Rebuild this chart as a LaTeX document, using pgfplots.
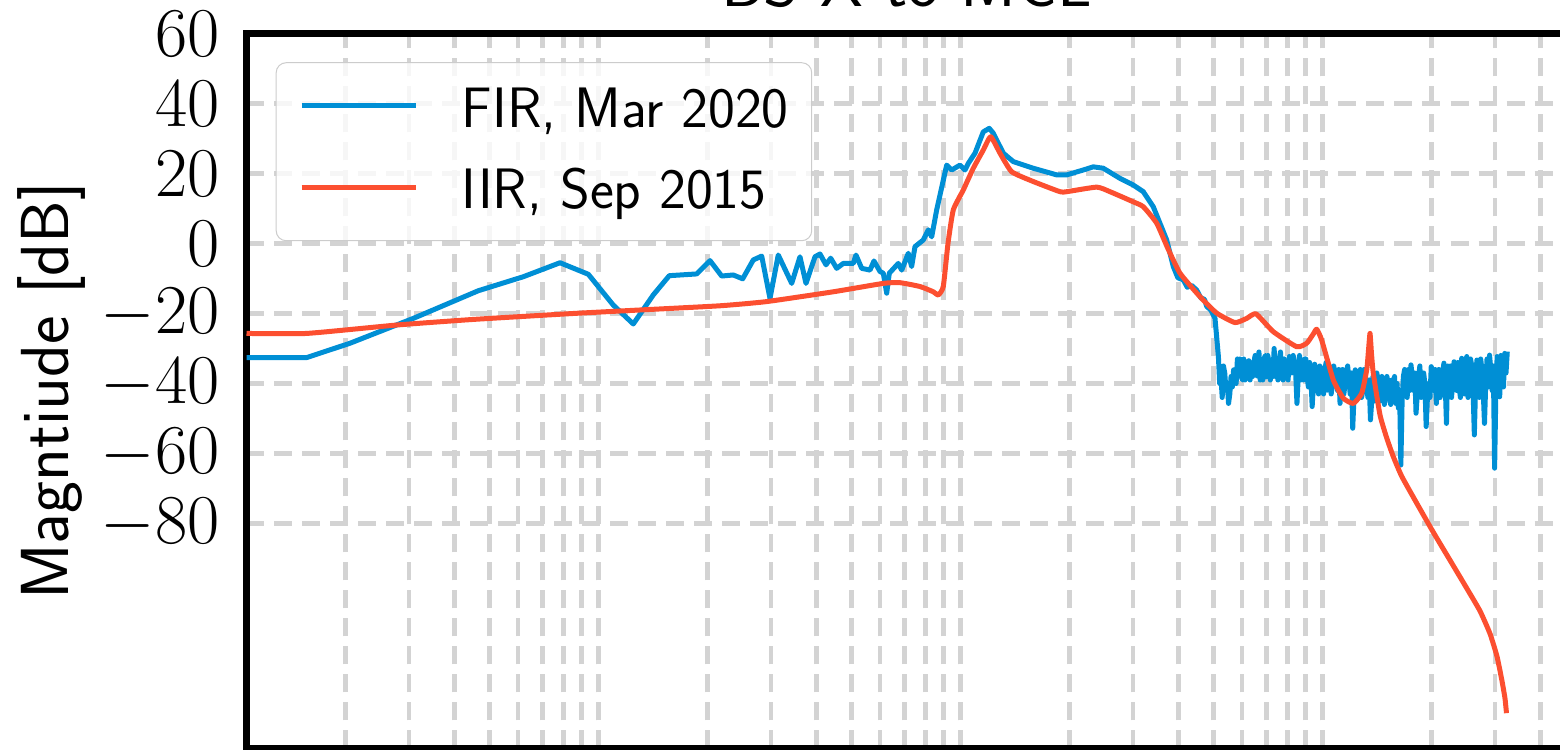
\RequirePackage{fix-cm}
\documentclass[border=0pt]{standalone}
\usepackage{pgfplots}
\pgfplotsset{compat=1.18}
\usepackage{pgfplotstable}
\definecolor{fir}{RGB}{0,143,213}
\definecolor{iir}{RGB}{252,79,48}
\definecolor{gridc}{RGB}{211,211,211}
\definecolor{legedge}{RGB}{204,204,204}

% lf = log10(frequency), db = magnitude
\pgfplotstableread{
lf db
-0.9718 -32.6
-0.8055 -32.6
-0.6859 -28.5
-0.5110 -21.4
-0.3315 -13.5
-0.2072 -9.5
-0.1058 -5.5
-0.0276 -8.8
0.0414 -17.6
0.0967 -23.0
0.1519 -14.7
0.1961 -9.2
0.2718 -8.7
0.3086 -4.9
0.3409 -9.3
0.3729 -9.0
0.3989 -10.1
0.4282 -4.7
0.4514 -3.6
0.4743 -15.7
0.4972 -3.3
0.5343 -11.4
0.5572 -3.8
0.5738 -11.4
0.5986 -3.8
0.6124 -3.0
0.6290 -6.1
0.6420 -4.2
0.6586 -7.1
0.6768 -5.7
0.7044 -5.7
0.7119 -3.3
0.7276 -7.1
0.7506 -7.6
0.7616 -5.0
0.7782 -8.0
0.7873 -8.5
0.7967 -14.2
0.8039 -8.5
0.8287 -5.7
0.8381 -7.6
0.8564 -2.8
0.8657 -6.6
0.8749 -0.9
0.8978 1.0
0.9116 3.9
0.9210 1.9
0.9348 9.6
0.9624 22.4
0.9762 21.0
0.9992 22.4
1.0130 21.0
1.0221 22.9
1.0406 25.8
1.0635 31.9
1.0801 32.9
1.0912 31.5
1.1188 25.8
1.1464 23.4
1.2017 21.5
1.2663 19.6
1.2939 19.6
1.3398 21.0
1.3674 21.9
1.3950 21.5
1.4412 18.6
1.4779 16.7
1.5055 14.8
1.5331 10.5
1.5702 1.0
1.5884 -6.6
1.6011 -9.8
1.6160 -10.4
1.6271 -12.5
1.6392 -12.0
1.6530 -13.3
1.6641 -15.5
1.6746 -16.0
1.6807 -18.0
1.6920 -19.0
1.7036 -21.4
1.713 -32.3
1.7165 -40
1.720 -38
1.7235 -44
1.727 -35
1.7305 -37
1.734 -42
1.7375 -40
1.741 -45.7
1.7445 -43
1.748 -38
1.7515 -41
1.755 -36.1
1.7585 -38
1.762 -40
1.7655 -33
1.769 -35
1.7725 -33
1.776 -38
1.7795 -39
1.783 -33
1.7865 -39
1.790 -37
1.7935 -38
1.797 -33.5
1.8005 -39
1.804 -36.5
1.8075 -38
1.811 -34
1.8145 -32
1.818 -37.5
1.8215 -38
1.825 -31
1.8285 -39
1.832 -36
1.8355 -39
1.839 -33
1.8425 -32
1.846 -38.1
1.8495 -32
1.853 -34
1.8565 -39
1.860 -36
1.8635 -38
1.867 -30
1.8705 -38
1.874 -35
1.8775 -39
1.881 -33
1.8845 -31
1.888 -37
1.8915 -39
1.895 -33
1.8985 -38
1.902 -36
1.9055 -39
1.909 -32.3
1.9125 -34
1.916 -37
1.9195 -32
1.923 -34
1.9265 -37
1.930 -45.7
1.9335 -38
1.937 -32
1.9405 -39
1.944 -36
1.9475 -39
1.951 -33
1.9545 -33
1.958 -38
1.9615 -41
1.965 -34
1.9685 -38
1.972 -46.6
1.9755 -40
1.979 -34.5
1.9825 -42
1.986 -39
1.9895 -43
1.993 -35
1.9965 -36
2.000 -40
2.0035 -43
2.007 -36
2.0105 -34
2.014 -41.9
2.0175 -39
2.021 -35.2
2.0245 -43
2.028 -40
2.0315 -35
2.035 -37
2.0385 -39
2.042 -42
2.0455 -36
2.049 -45.7
2.0525 -41
2.056 -36
2.0595 -43
2.063 -40
2.0665 -37
2.070 -35
2.0735 -39
2.077 -43
2.0805 -37
2.084 -52.8
2.0875 -44
2.091 -36.1
2.0945 -44
2.098 -41
2.1015 -38
2.105 -36
2.1085 -44
2.112 -42
2.1155 -36
2.119 -38
2.1225 -41
2.126 -44
2.1295 -39
2.133 -50.4
2.1365 -45
2.140 -38
2.1435 -45
2.147 -43
2.1505 -37
2.154 -39
2.1575 -42
2.161 -45
2.1645 -38
2.168 -40
2.1715 -46
2.175 -44
2.1785 -38
2.182 -40
2.1855 -43
2.189 -46
2.1925 -39
2.196 -41
2.1995 -38
2.203 -45.7
2.2065 -40
2.210 -47
2.2135 -42
2.217 -63.3
2.2205 -45
2.224 -38
2.2275 -36
2.231 -42
2.2345 -44
2.238 -36
2.2415 -42
2.245 -34.7
2.2485 -38
2.252 -42
2.2555 -37
2.259 -48.5
2.2625 -43
2.266 -38
2.2695 -35
2.273 -44
2.2765 -41
2.280 -37
2.2835 -40
2.287 -52.3
2.2905 -44
2.294 -40
2.2975 -44
2.301 -35.2
2.3045 -38
2.308 -42
2.3115 -36
2.315 -45.7
2.3185 -40
2.322 -36
2.3255 -44
2.329 -42
2.3325 -37
2.336 -34.2
2.3395 -40
2.343 -51.4
2.3465 -35
2.350 -38
2.3535 -35
2.357 -44
2.3605 -39
2.364 -33.8
2.3675 -37
2.371 -42
2.3745 -34
2.378 -40.9
2.3815 -44
2.385 -32.8
2.3885 -37
2.392 -43
2.3955 -38
2.399 -32.3
2.4025 -44
2.406 -41
2.4095 -33
2.413 -35
2.4165 -42
2.420 -54.7
2.4235 -40
2.427 -33.3
2.4305 -37
2.434 -44
2.4375 -33
2.441 -36
2.4445 -42
2.448 -51.4
2.4515 -40
2.455 -33
2.4585 -41
2.462 -31.9
2.4655 -36
2.469 -42
2.4725 -35
2.476 -64.2
2.4795 -42
2.483 -32.3
2.4865 -38
2.490 -43.8
2.4935 -32
2.497 -34
2.5005 -41
2.504 -31.4
2.5075 -37
2.511 -30.9
}\firdata

\pgfplotstableread{
lf db
-0.9718 -25.7
-0.8055 -25.7
-0.5569 -23.3
-0.3453 -21.7
-0.0691 -20.0
0.1152 -19.0
0.3362 -17.8
0.4652 -16.6
0.6492 -13.8
0.7873 -11.4
0.8334 -11.2
0.8887 -12.3
0.9254 -13.8
0.9392 -14.7
0.9530 -12.3
0.9660 0.0
0.9807 9.6
1.0083 15.3
1.0359 21.5
1.0635 26.7
1.0840 30.5
1.1097 25.8
1.1420 20.5
1.2017 17.7
1.2754 14.8
1.2939 14.8
1.3768 16.1
1.4135 14.8
1.4779 11.9
1.5055 10.5
1.5425 5.8
1.5738 -1.5
1.6069 -8.5
1.6622 -15.2
1.7083 -19.9
1.7588 -22.6
1.7912 -21.4
1.8169 -20.1
1.8646 -25.2
1.9293 -29.5
1.9569 -28.5
1.9743 -26.0
1.9845 -24.5
1.9983 -27.6
2.0304 -39.0
2.0580 -44.2
2.0856 -45.7
2.1088 -42.8
2.1227 -36.1
2.1276 -30.5
2.1318 -25.7
2.1359 -31.5
2.1409 -37.1
2.1594 -49.0
2.1777 -55.5
2.1961 -60.9
2.2193 -66.5
2.2608 -74.2
2.3066 -82.5
2.3528 -90.5
2.3989 -98.5
2.4356 -105.0
2.4633 -111.5
2.4826 -118.0
2.4964 -125.0
2.5047 -130.0
2.5088 -134.2
}\iirdata

\begin{document}
\begin{tikzpicture}
\begin{axis}[
  at={(0,0)}, anchor=south west,
  scale only axis, width=660.25pt, height=357.5pt,
  xmode=log, xmin=0.10671, xmax=474.2,
  ymin=-144.3, ymax=60,
  ytick={-80,-60,-40,-20,0,20,40,60},
  xticklabels={},
  major tick length=0pt, minor tick length=0pt,
  grid=both,
  major grid style={draw=gridc, line width=2.4pt, dash pattern=on 9pt off 5pt},
  minor grid style={draw=gridc, line width=2.4pt, dash pattern=on 9pt off 5pt},
  axis line style={line width=3.5pt, black},
  yticklabel style={font=\fontsize{35}{42}\selectfont, xshift=-10pt},
  ylabel={Magntiude [dB]},
  ylabel style={font=\sffamily\fontsize{34}{40}\selectfont, at={(axis description cs:-0.1473,0.5)}, anchor=center, rotate=0},
  title={BS X to MCL},
  title style={font=\sffamily\fontsize{34}{40}\selectfont, at={(axis description cs:0.5,1)}, anchor=base, yshift=7.25pt},
  legend cell align=left,
  legend style={
    at={(axis description cs:0.02211,0.95986)}, anchor=north west,
    font=\sffamily\fontsize{28.5}{34}\selectfont,
    draw=legedge, line width=0.5pt, fill=white, fill opacity=0.8, text opacity=1,
    rounded corners=5pt,
    inner xsep=11.5pt, inner ysep=12.3pt,
    column sep=21.5pt, row sep=16.8pt,
    nodes={inner sep=0pt, text height=20pt, text depth=3.8pt},
  },
  legend image code/.code={\draw[#1, line width=2.5pt] (0pt,2.65pt) -- (57.4pt,2.65pt);},
]
\addplot[fir, line width=2.5pt, line join=round] table[x expr={10^\thisrow{lf}}, y=db] {\firdata};
\addlegendentry{FIR, Mar 2020}
\addplot[iir, line width=2.5pt, line join=round, smooth, tension=0.3] table[x expr={10^\thisrow{lf}}, y=db] {\iirdata};
\addlegendentry{IIR, Sep 2015}
\end{axis}
\pgfresetboundingbox
\useasboundingbox (-123.25pt,-0.75pt) rectangle (656.75pt,374.25pt);
\end{tikzpicture}
\end{document}
